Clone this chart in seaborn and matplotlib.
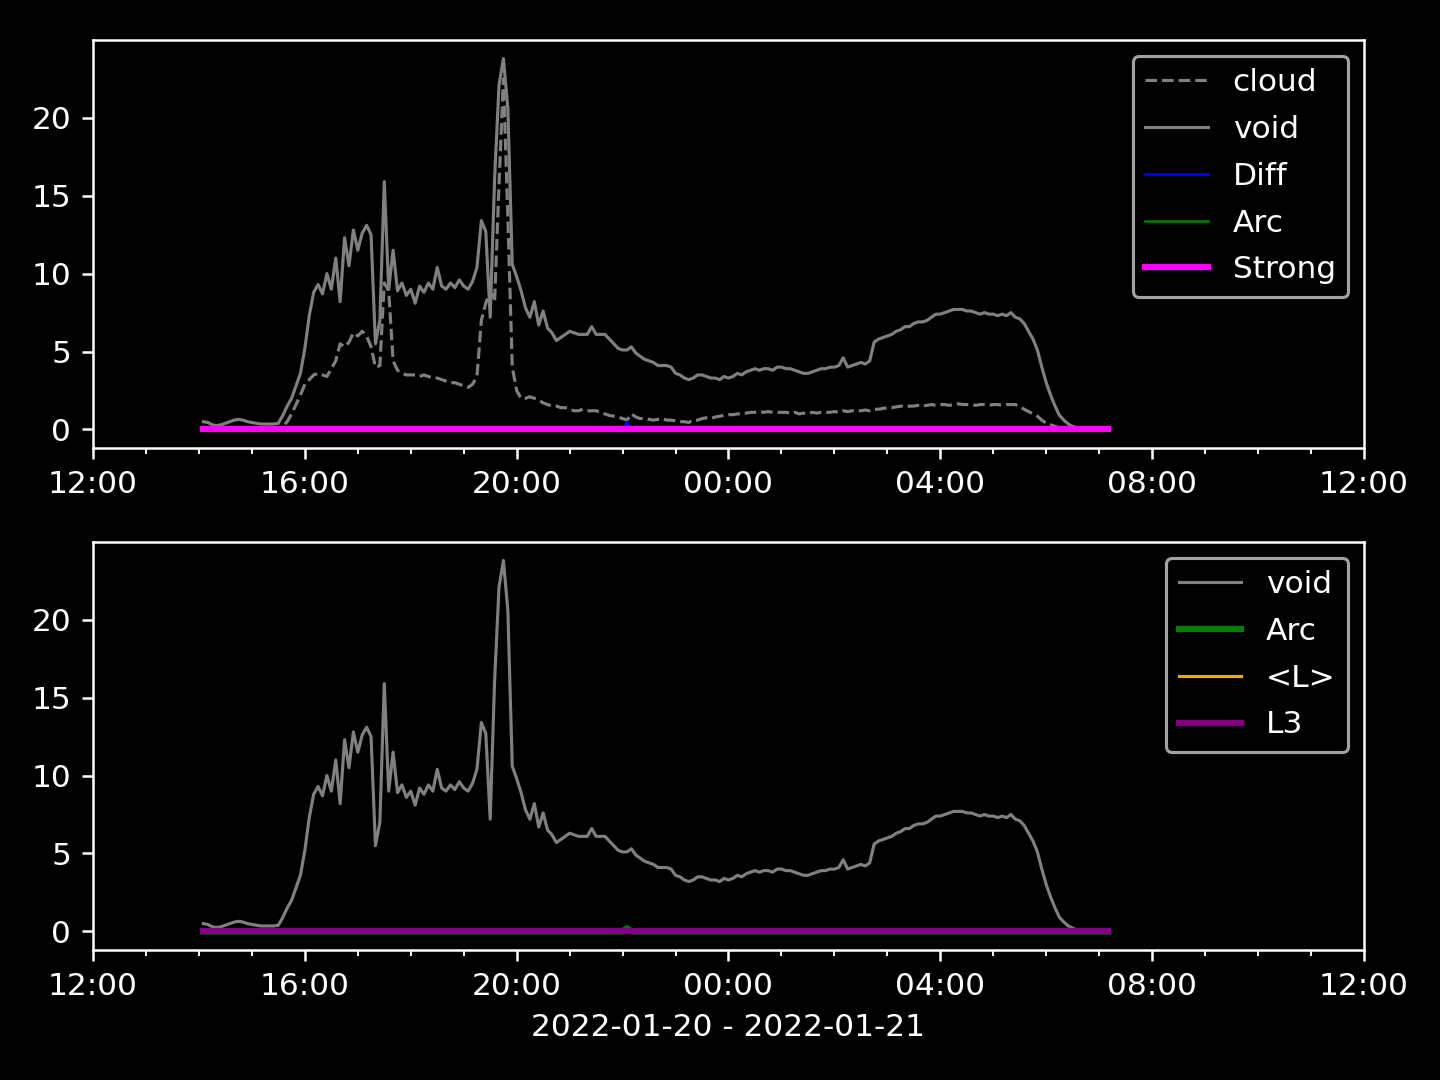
import numpy as np
import pandas as pd
import matplotlib
matplotlib.use("Agg")
import matplotlib.pyplot as plt
import matplotlib.dates as mdates
import seaborn as sns

# 5-minute samples, 2022-01-20 14:05 -> 2022-01-21 07:10 (one row per hour)
void = [
    0.5, 0.45, 0.3, 0.25, 0.3, 0.4, 0.5, 0.6, 0.65, 0.6, 0.5, 0.45,          # 14:05-15:00
    0.4, 0.35, 0.35, 0.35, 0.35, 0.4, 0.9, 1.5, 2.0, 2.8, 3.6, 5.2,          # 15:05-16:00
    7.3, 8.8, 9.3, 8.7, 10.0, 9.0, 11.0, 8.2, 12.3, 10.5, 12.8, 11.5,        # 16:05-17:00
    12.6, 13.1, 12.5, 5.5, 7.0, 15.9, 9.0, 11.5, 8.9, 9.4, 8.6, 9.0,         # 17:05-18:00
    8.1, 9.2, 8.8, 9.4, 9.0, 10.4, 9.2, 9.0, 9.4, 9.1, 9.6, 9.2,             # 18:05-19:00
    9.0, 9.5, 10.4, 13.4, 12.7, 7.2, 16.1, 22.1, 23.8, 20.6, 10.6, 9.8,      # 19:05-20:00
    8.9, 7.8, 7.2, 8.2, 6.7, 7.6, 6.5, 6.2, 5.7, 5.9, 6.1, 6.3,              # 20:05-21:00
    6.2, 6.1, 6.1, 6.1, 6.6, 6.1, 6.1, 6.1, 5.8, 5.5, 5.2, 5.1,              # 21:05-22:00
    5.1, 5.3, 4.9, 4.7, 4.5, 4.4, 4.3, 4.1, 4.1, 4.1, 4.0, 3.6,              # 22:05-23:00
    3.5, 3.3, 3.2, 3.3, 3.5, 3.5, 3.4, 3.3, 3.3, 3.2, 3.4, 3.3,              # 23:05-00:00
    3.4, 3.6, 3.5, 3.7, 3.8, 3.9, 3.8, 3.9, 3.9, 3.8, 4.0, 4.0,              # 00:05-01:00
    3.9, 3.9, 3.8, 3.7, 3.6, 3.6, 3.7, 3.8, 3.9, 3.9, 4.0, 4.0,              # 01:05-02:00
    4.1, 4.6, 4.0, 4.1, 4.2, 4.3, 4.2, 4.4, 5.6, 5.8, 5.9, 6.0,              # 02:05-03:00
    6.1, 6.3, 6.4, 6.6, 6.6, 6.8, 6.9, 6.9, 7.0, 7.2, 7.4, 7.4,              # 03:05-04:00
    7.5, 7.6, 7.7, 7.7, 7.7, 7.6, 7.6, 7.5, 7.4, 7.5, 7.4, 7.4,              # 04:05-05:00
    7.3, 7.4, 7.3, 7.5, 7.2, 7.1, 6.8, 6.3, 5.8, 5.1, 4.0, 3.0,              # 05:05-06:00
    2.2, 1.5, 0.9, 0.6, 0.35, 0.2, 0.1, 0.05, 0.02, 0.0, 0.0, 0.0,           # 06:05-07:00
    0.0, 0.0,                                                                 # 07:05-07:10
]

cloud = [
    0.1, 0.1, 0.1, 0.1, 0.1, 0.1, 0.1, 0.1, 0.1, 0.1, 0.1, 0.1,              # 14:05-15:00
    0.1, 0.1, 0.1, 0.1, 0.1, 0.1, 0.2, 0.5, 1.0, 1.6, 2.2, 2.9,              # 15:05-16:00
    3.2, 3.5, 3.6, 3.5, 3.4, 3.9, 4.4, 5.5, 5.3, 5.6, 6.2, 6.0,              # 16:05-17:00
    6.3, 6.0, 5.3, 4.0, 4.1, 9.4, 8.9, 4.4, 3.8, 3.6, 3.5, 3.5,              # 17:05-18:00
    3.5, 3.4, 3.5, 3.4, 3.3, 3.3, 3.2, 3.1, 3.0, 3.0, 2.9, 2.8,              # 18:05-19:00
    2.7, 2.9, 3.4, 7.0, 8.1, 8.9, 8.2, 15.7, 22.5, 13.6, 4.0, 2.5,           # 19:05-20:00
    2.0, 2.0, 2.1, 2.0, 1.9, 1.7, 1.6, 1.5, 1.5, 1.4, 1.4, 1.3,              # 20:05-21:00
    1.2, 1.2, 1.3, 1.2, 1.2, 1.2, 1.1, 1.0, 0.9, 0.85, 0.8, 0.7,             # 21:05-22:00
    0.6, 1.0, 0.8, 0.7, 0.7, 0.65, 0.6, 0.65, 0.7, 0.6, 0.6, 0.55,           # 22:05-23:00
    0.5, 0.5, 0.45, 0.6, 0.6, 0.7, 0.75, 0.7, 0.8, 0.85, 0.9, 0.95,          # 23:05-00:00
    0.95, 1.0, 1.0, 1.05, 1.1, 1.1, 1.15, 1.1, 1.15, 1.1, 1.1, 1.1,          # 00:05-01:00
    1.1, 1.05, 1.1, 1.0, 1.05, 1.0, 1.1, 1.05, 1.1, 1.1, 1.1, 1.15,          # 01:05-02:00
    1.1, 1.2, 1.15, 1.2, 1.2, 1.2, 1.25, 1.2, 1.3, 1.3, 1.35, 1.4,           # 02:05-03:00
    1.4, 1.45, 1.5, 1.45, 1.5, 1.5, 1.55, 1.5, 1.55, 1.6, 1.55, 1.6,         # 03:05-04:00
    1.6, 1.55, 1.6, 1.65, 1.6, 1.6, 1.6, 1.55, 1.6, 1.6, 1.55, 1.6,          # 04:05-05:00
    1.6, 1.55, 1.6, 1.6, 1.6, 1.45, 1.3, 1.15, 1.0, 0.85, 0.6, 0.4,          # 05:05-06:00
    0.3, 0.2, 0.1, 0.05, 0.0, 0.0, 0.0, 0.0, 0.0, 0.0, 0.0, 0.0,             # 06:05-07:00
    0.0, 0.0,                                                                 # 07:05-07:10
]

# small excursions above zero in otherwise flat series
diff_spikes = {"2022-01-20 21:20": 0.15, "2022-01-20 22:05": 0.5, "2022-01-20 23:20": 0.1}
arc_spikes = {"2022-01-20 22:05": 0.2}

times = pd.date_range("2022-01-20 14:05", periods=len(void), freq="5min")
df = pd.DataFrame({"time": times, "void": void, "cloud": cloud})
df["Diff"] = 0.0
df["Arc"] = 0.0
for t, v in diff_spikes.items():
    df.loc[df["time"] == pd.Timestamp(t), "Diff"] = v
for t, v in arc_spikes.items():
    df.loc[df["time"] == pd.Timestamp(t), "Arc"] = v
df["Strong"] = 0.0
df["L"] = 0.0
df["L3"] = 0.0

plt.style.use("dark_background")
fig, (ax1, ax2) = plt.subplots(2, 1, figsize=(6.4, 4.8), dpi=225)

# top panel
sns.lineplot(data=df, x="time", y="cloud", ax=ax1, color="gray", lw=1, ls="--", label="cloud")
sns.lineplot(data=df, x="time", y="void", ax=ax1, color="gray", lw=1, label="void")
sns.lineplot(data=df, x="time", y="Diff", ax=ax1, color="blue", lw=0.8, label="Diff")
sns.lineplot(data=df, x="time", y="Arc", ax=ax1, color="green", lw=0.8, label="Arc")
sns.lineplot(data=df, x="time", y="Strong", ax=ax1, color="magenta", lw=2, label="Strong")

# bottom panel
sns.lineplot(data=df, x="time", y="void", ax=ax2, color="gray", lw=1, label="void")
sns.lineplot(data=df, x="time", y="Arc", ax=ax2, color="green", lw=2, label="Arc")
sns.lineplot(data=df, x="time", y="L", ax=ax2, color="orange", lw=1, label="<L>")
sns.lineplot(data=df, x="time", y="L3", ax=ax2, color="purple", lw=2, label="L3")

for ax in (ax1, ax2):
    ax.set_xlim(pd.Timestamp("2022-01-20 12:00"), pd.Timestamp("2022-01-21 12:00"))
    ax.xaxis.set_major_locator(mdates.HourLocator(byhour=[0, 4, 8, 12, 16, 20]))
    ax.xaxis.set_minor_locator(mdates.HourLocator())
    ax.xaxis.set_major_formatter(mdates.DateFormatter("%H:%M"))
    ax.set_yticks([0, 5, 10, 15, 20])
    ax.set_ylabel("")
    ax.legend(loc="upper right", labelspacing=0.57)

ax1.set_xlabel("")
ax2.set_xlabel("2022-01-20 - 2022-01-21")

fig.subplots_adjust(left=0.0646, right=0.9472, top=0.963, bottom=0.1204, hspace=0.23)
plt.savefig("out.png")
